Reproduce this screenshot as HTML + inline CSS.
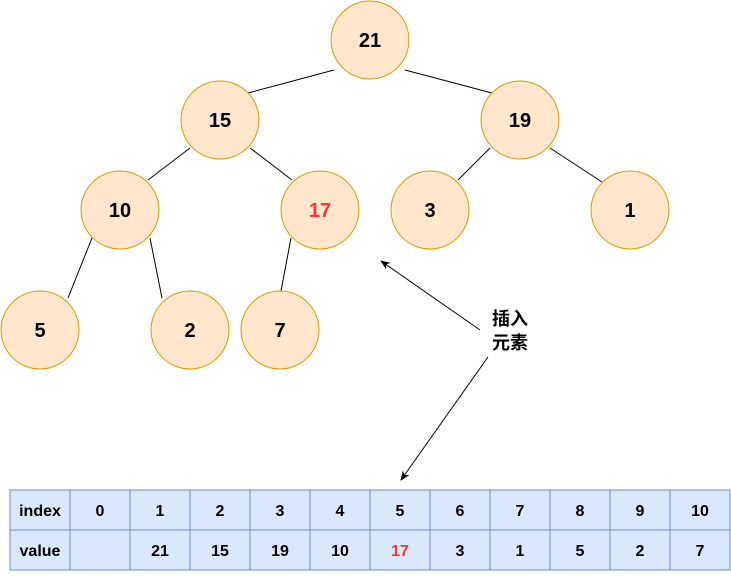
<!DOCTYPE html>
<html><head><meta charset="utf-8"><style>body{margin:0;background:#fff}</style></head><body>
<svg width="731" height="571" viewBox="0 0 731 571" xmlns="http://www.w3.org/2000/svg" font-family="Liberation Sans, Noto Sans CJK SC, sans-serif" font-weight="bold">
<defs><marker id="a" markerWidth="10" markerHeight="10" refX="9" refY="5" orient="auto" markerUnits="userSpaceOnUse"><path d="M0,1 L10,5 L0,9 L3,5 z" fill="#000"/></marker></defs>
<g stroke="#000" stroke-width="1">
<line x1="334" y1="70" x2="248" y2="93"/><line x1="405" y1="70" x2="492" y2="93"/>
<line x1="190" y1="148" x2="148" y2="180"/><line x1="250" y1="148" x2="292" y2="180"/>
<line x1="490" y1="148" x2="458" y2="180"/><line x1="550" y1="148" x2="602" y2="182"/>
<line x1="92" y1="238" x2="68" y2="298"/><line x1="150" y1="238" x2="162" y2="298"/>
<line x1="291" y1="238" x2="281" y2="291"/>
<line x1="480" y1="330" x2="381" y2="261" marker-end="url(#a)"/>
<line x1="488" y1="357" x2="401" y2="480" marker-end="url(#a)"/>
</g>
<g fill="#ffe6cc" stroke="#d79b00" stroke-width="1">
<circle cx="370" cy="40" r="39"/><circle cx="220" cy="120" r="39"/><circle cx="520" cy="120" r="39"/>
<circle cx="120" cy="210" r="39"/><circle cx="320" cy="210" r="39"/><circle cx="430" cy="210" r="39"/><circle cx="630" cy="210" r="39"/>
<circle cx="40" cy="330" r="39"/><circle cx="190" cy="330" r="39"/><circle cx="280" cy="330" r="39"/>
</g>
<g font-size="20" text-anchor="middle" fill="#000">
<text x="370" y="47">21</text><text x="220" y="127">15</text><text x="520" y="127">19</text>
<text x="120" y="217">10</text><text x="320" y="217" fill="#ff3333">17</text><text x="430" y="217">3</text><text x="630" y="217">1</text>
<text x="40" y="337">5</text><text x="190" y="337">2</text><text x="280" y="337">7</text>
</g>
<g font-size="18" text-anchor="middle"><text x="510" y="325">插入</text><text x="510" y="349">元素</text></g>
<rect x="10" y="490" width="720" height="80" fill="#dae8fc" stroke="#6c8ebf"/>
<g stroke="#6c8ebf"><line x1="10" y1="530" x2="730" y2="530"/>
<line x1="70" y1="490" x2="70" y2="570"/><line x1="130" y1="490" x2="130" y2="570"/><line x1="190" y1="490" x2="190" y2="570"/><line x1="250" y1="490" x2="250" y2="570"/><line x1="310" y1="490" x2="310" y2="570"/><line x1="370" y1="490" x2="370" y2="570"/><line x1="430" y1="490" x2="430" y2="570"/><line x1="490" y1="490" x2="490" y2="570"/><line x1="550" y1="490" x2="550" y2="570"/><line x1="610" y1="490" x2="610" y2="570"/><line x1="670" y1="490" x2="670" y2="570"/></g>
<g font-size="16" text-anchor="middle">
<text x="40" y="516">index</text><text x="100" y="516">0</text><text x="160" y="516">1</text><text x="220" y="516">2</text><text x="280" y="516">3</text><text x="340" y="516">4</text><text x="400" y="516">5</text><text x="460" y="516">6</text><text x="520" y="516">7</text><text x="580" y="516">8</text><text x="640" y="516">9</text><text x="700" y="516">10</text>
<text x="40" y="556">value</text><text x="160" y="556">21</text><text x="220" y="556">15</text><text x="280" y="556">19</text><text x="340" y="556">10</text><text x="400" y="556" fill="#ff3333">17</text><text x="460" y="556">3</text><text x="520" y="556">1</text><text x="580" y="556">5</text><text x="640" y="556">2</text><text x="700" y="556">7</text>
</g>
</svg>
</body></html>
